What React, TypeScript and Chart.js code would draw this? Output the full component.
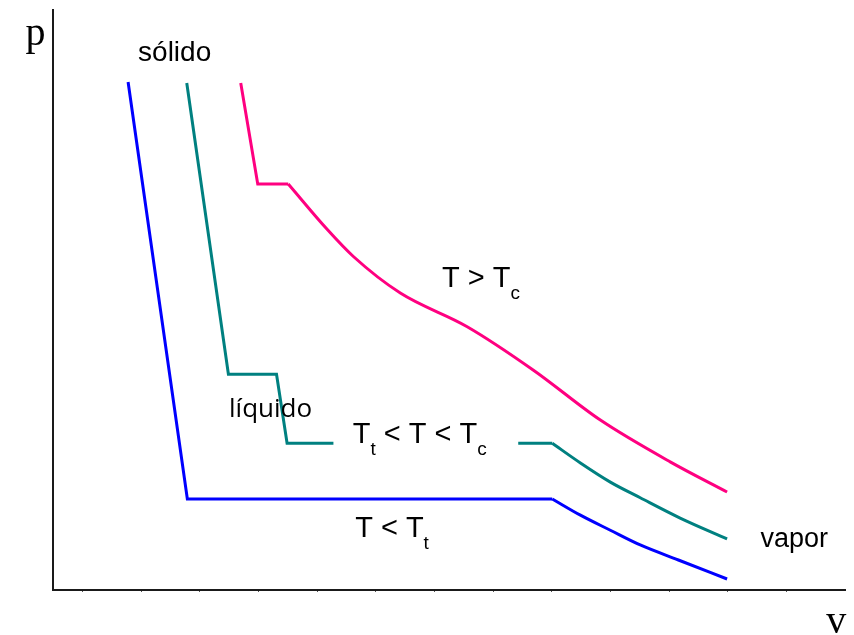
import React, { useEffect, useRef } from "react";
import { Chart, registerables } from "chart.js";

Chart.register(...registerables);

// Specific volume (v) and pressure (p) for three isotherms, arbitrary units.
// Each isotherm is split into a straight-segment part (solid / phase-change
// plateaus) and a smooth vapour / fluid tail that starts where the first ends.

// T < Tt : solid compressed until it sublimates, then vapour.
const lowStemV = [0.78, 1.79, 8.01];
const lowStemP = [87.6, 15.7, 15.7];
const lowTailV = [8.01, 8.49, 9.0, 9.51, 10.16, 10.99];
const lowTailP = [15.7, 12.9, 10.3, 7.76, 5.17, 1.9];

// Tt < T < Tc : solid, melting plateau, liquid, boiling plateau, vapour.
// The null entry leaves a break in the boiling plateau where its label sits.
const midStemV = [1.78, 2.49, 3.31, 3.49, 4.28, 5.85, 7.43, 8.01];
const midStemP = [87.4, 37.2, 37.2, 25.3, 25.3, null, 25.3, 25.3];
const midTailV = [8.01, 8.49, 9.0, 9.51, 10.19, 10.99];
const midTailP = [25.3, 21.9, 18.6, 15.9, 12.4, 8.8];

// T > Tc : supercritical fluid beyond the melting plateau.
const highStemV = [2.7, 2.99, 3.51];
const highStemP = [87.4, 70.0, 70.0];
const highTailV = [3.51, 4.18, 4.62, 5.42, 6.56, 7.69, 8.83, 10.02, 10.99];
const highTailP = [70.0, 62.1, 57.5, 51.2, 45.4, 37.9, 29.3, 22.1, 16.9];

// Unlabelled tick marks along the volume axis.
const vTicks = [0, 1, 2, 3, 4, 5, 6, 7, 8, 9, 10, 11, 12];

const SANS = '"Liberation Sans", Arial, sans-serif';
const SERIF = '"Liberation Serif", "Times New Roman", serif';

type Part = { t: string; sub?: boolean };
type Note = { v: number; p: number; font: string; parts: Part[] };

// Annotations placed in data coordinates (left edge, baseline).
const notes: Note[] = [
  { v: -0.97, p: 94.0, font: `40px ${SERIF}`, parts: [{ t: "p" }] },
  { v: 12.68, p: -7.4, font: `40px ${SERIF}`, parts: [{ t: "v" }] },
  { v: 0.95, p: 91.2, font: `28px ${SANS}`, parts: [{ t: "sólido" }] },
  { v: 2.5, p: 29.8, font: `26px "Open Sans", ${SANS}`, parts: [{ t: "líquido" }] },
  { v: 11.56, p: 7.4, font: `27px ${SANS}`, parts: [{ t: "vapor" }] },
  { v: 6.13, p: 52.2, font: `29px ${SANS}`, parts: [{ t: "T > T" }, { t: "c", sub: true }] },
  {
    v: 4.61,
    p: 25.3,
    font: `29px ${SANS}`,
    parts: [{ t: "T" }, { t: "t", sub: true }, { t: " < T < T" }, { t: "c", sub: true }],
  },
  { v: 4.65, p: 9.1, font: `29px ${SANS}`, parts: [{ t: "T < T" }, { t: "t", sub: true }] },
];

const SUB_FONT = `19px ${SANS}`;
const SUB_DROP = 12;

const notesPlugin = {
  id: "phaseNotes",
  afterDraw(chart: any) {
    const { ctx } = chart;
    const xs = chart.scales.x;
    const ys = chart.scales.y;
    ctx.save();
    ctx.fillStyle = "#000";
    ctx.textAlign = "left";
    ctx.textBaseline = "alphabetic";
    for (const n of notes) {
      let px = xs.getPixelForValue(n.v);
      const py = ys.getPixelForValue(n.p);
      for (const part of n.parts) {
        ctx.font = part.sub ? SUB_FONT : n.font;
        ctx.fillText(part.t, px, py + (part.sub ? SUB_DROP : 0));
        px += ctx.measureText(part.t).width;
      }
    }
    ctx.restore();
  },
};

const toPoints = (vs: number[], ps: (number | null)[]) => vs.map((v, i) => ({ x: v, y: ps[i] }));

const BLUE = "#0000ff";
const TEAL = "#008080";
const PINK = "#ff0080";

export default function App() {
  const canvasRef = useRef<HTMLCanvasElement | null>(null);

  useEffect(() => {
    document.body.style.margin = "0";
    const canvas = canvasRef.current;
    if (!canvas) return;

    const stem = (data: any[], color: string) => ({
      data,
      borderColor: color,
      borderWidth: 3,
      pointRadius: 0,
      tension: 0,
      fill: false,
      spanGaps: false,
    });
    const tail = (data: any[], color: string) => ({
      data,
      borderColor: color,
      borderWidth: 3,
      pointRadius: 0,
      cubicInterpolationMode: "monotone" as const,
      fill: false,
    });

    const chart = new Chart(canvas, {
      type: "line",
      data: {
        datasets: [
          stem(toPoints(lowStemV, lowStemP), BLUE),
          tail(toPoints(lowTailV, lowTailP), BLUE),
          stem(toPoints(midStemV, midStemP), TEAL),
          tail(toPoints(midTailV, midTailP), TEAL),
          stem(toPoints(highStemV, highStemP), PINK),
          tail(toPoints(highTailV, highTailP), PINK),
        ],
      },
      options: {
        animation: false,
        responsive: false,
        devicePixelRatio: 1,
        layout: { padding: { left: 53, right: 9, top: 10, bottom: 43 } },
        plugins: { legend: { display: false }, tooltip: { enabled: false } },
        scales: {
          x: {
            type: "linear",
            min: -0.5,
            max: 13,
            afterBuildTicks: (scale: any) => {
              scale.ticks = vTicks.map((value) => ({ value }));
            },
            ticks: { display: false },
            grid: {
              display: true,
              drawOnChartArea: false,
              drawTicks: true,
              tickLength: 2,
              color: "#555",
              lineWidth: 1,
            },
            border: { display: true, color: "#1a1a1a", width: 2 },
          },
          y: {
            type: "linear",
            min: 0,
            max: 100,
            ticks: { display: false },
            grid: { display: false, drawTicks: false },
            border: { display: true, color: "#1a1a1a", width: 2 },
          },
        },
      },
      plugins: [notesPlugin],
    });

    return () => chart.destroy();
  }, []);

  return <canvas ref={canvasRef} width={854} height={635} style={{ display: "block" }} />;
}
